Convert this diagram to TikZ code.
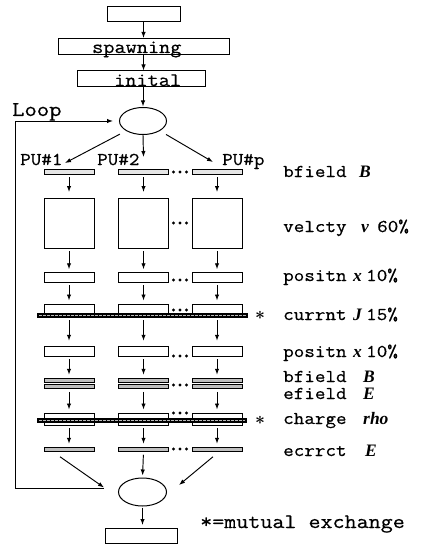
\documentclass[tikz,border=0pt]{standalone}
\usepackage{amsmath}
\usepackage{fontspec}
\usetikzlibrary{shapes.geometric,arrows.meta}
\newfontfamily\monoA[FakeStretch=1.14,FakeBold=0.6]{Latin Modern Mono}
\newfontfamily\varfont{Liberation Serif}
\begin{document}
\begin{tikzpicture}[x=1pt,y=-1pt]
\tikzset{
 frame/.style={draw,line width=1pt,fill=white,inner sep=0pt,outer sep=0pt},
 cell/.style={frame,minimum width=50pt},
 bar/.style={draw,line width=0.85pt,fill=gray!50,inner sep=0pt,outer sep=0pt,minimum width=50pt,minimum height=4.5pt},
 lightbar/.style={bar,fill=gray!20},
 oval/.style={ellipse,draw,line width=1pt,inner sep=0pt},
 arr/.style={-{Latex[length=6pt,width=4.4pt]},line width=0.95pt},
 varr/.style={arr,shorten <=3pt,shorten >=3.5pt},
 lbl/.style={inner sep=0pt,anchor=base west,font=\monoA\fontsize{18}{20}\selectfont},
 var/.style={inner sep=0pt,anchor=base west,font=\varfont\bfseries\itshape\fontsize{17.5}{18}\selectfont},
 xband/.style={line width=5pt,black},
 xbandin/.style={line width=1.3pt,gray!55,dash pattern=on 2.5pt off 1.5pt},
 dotty/.style={fill=black},
 starn/.style={inner sep=0pt,font=\fontsize{18}{18}\selectfont},
}
\useasboundingbox (0,0) rectangle (428,548);

% top part
\node[frame,minimum width=73pt,minimum height=15pt] (start) at (143.5,14.5) {};
\node[frame,minimum width=171pt,minimum height=16pt] (spawn) at (143.5,47) {};
\node[lbl,font=\monoA\fontsize{19}{20}\selectfont] (spawnt) at (92,53) {spawning};
\node[frame,minimum width=128pt,minimum height=16pt] (init) at (141,79) {};
\node[lbl,font=\monoA\fontsize{19}{20}\selectfont] (initt) at (114,86) {inital};
\node[oval,minimum width=47pt,minimum height=27pt] (e1) at (143,121) {};

\draw[arr,shorten >=1pt] (start.south) -- (spawn.north);
\draw[arr,shorten >=0.5pt] (spawn.south) -- (spawn.south |- init.north);
\draw[arr,shorten >=0.5pt] (e1 |- init.south) -- (e1.north);

% PU labels and fan-out
\node[lbl] (pu1) at (20,165) {PU\#1};
\node[lbl] (pu2) at (97,165) {PU\#2};
\node[lbl] (pu3) at (222,165) {PU\#p};
\coordinate (t1) at (65,163);
\coordinate (t2) at (143.5,157);
\coordinate (t3) at (213,162);
\draw[arr,shorten <=7pt] (e1.south west) -- (t1);
\draw[arr] (e1.south) -- (t2);
\draw[arr,shorten <=7pt] (e1.south east) -- (t3);

% columns
\foreach \i/\x in {1/69,2/143.5,3/217}{
  \node[lightbar] (ba\i) at (\x,172) {};
  \node[cell,minimum height=50pt] (sq\i) at (\x,223) {};
  \node[cell,minimum height=9.5pt] (pa\i) at (\x,277.5) {};
  \node[cell,minimum height=13pt] (cu\i) at (\x,310.5) {};
  \node[cell,minimum height=9.5pt] (pb\i) at (\x,351.5) {};
  \node[bar] (bb\i) at (\x,380.5) {};
  \node[bar] (ef\i) at (\x,386.5) {};
  \node[cell,minimum height=12pt] (ch\i) at (\x,419) {};
  \node[bar] (ec\i) at (\x,449.5) {};
  \draw[arr,shorten <=3pt,shorten >=6pt] (ba\i.south) -- (sq\i.north);
  \draw[varr] (sq\i.south) -- (pa\i.north);
  \draw[varr] (pa\i.south) -- (cu\i.north);
  \draw[varr,shorten >=6pt] (cu\i.south) -- (pb\i.north);
  \draw[varr] (pb\i.south) -- (bb\i.north);
  \draw[varr] (ef\i.south) -- (ch\i.north);
  \draw[varr] (ch\i.south) -- (ec\i.north);
}

% exchange bands
\draw[xband] (37,315.5) -- (248,315.5);
\draw[xbandin] (39,315.5) -- (246,315.5);
\draw[xband] (37,420.5) -- (247,420.5);
\draw[xbandin] (39,420.5) -- (245,420.5);
\node[starn] (st1) at (260,315) {$\boldsymbol{\ast}$};
\node[starn] (st2) at (260,420.5) {$\boldsymbol{\ast}$};

% dots between column 2 and column p
\foreach \y in {172,223,280,310,356,385,413,449}{
  \foreach \x in {173.5,180,186.5}{
    \fill[dotty] (\x,\y) circle (1.7pt);
  }
}

% bottom part
\node[oval,minimum width=48pt,minimum height=28pt] (e2) at (142.5,492) {};
\node[frame,minimum width=72pt,minimum height=15pt] (stop) at (141,535.5) {};
\coordinate (jn) at (104,487.5);
\coordinate (t5) at (179,485);
\coordinate (lc1) at (15,488.5);
\draw[arr] ([xshift=-9pt,yshift=-5pt]ec1.south) -- (jn);
\draw[arr,shorten <=3pt,shorten >=2pt] (ec2.south) -- (e2.north);
\draw[arr] ([xshift=-4pt,yshift=-5pt]ec3.south) -- (t5);
\draw[arr,shorten <=1pt,shorten >=3pt] (e2.south) -- (e2.south |- stop.north);
\draw[arr,shorten >=6pt] (jn |- lc1) -- (lc1) |- (e1.west);
\node[lbl,font=\monoA\fontsize{21}{22}\selectfont] (loop) at (12,116) {Loop};

% right-hand labels
\node[lbl] (l1) at (283,177) {bfield};   \node[var] (v1) at (359,177) {B};
\node[lbl] (l2) at (283,232) {velcty};   \node[var] (v2) at (361,232) {v};
\node[lbl] (p2) at (377,232) {60\%};
\node[lbl] (l3) at (283,281) {positn};   \node[var] (v3) at (353,281) {x};
\node[lbl] (p3) at (366,281) {10\%};
\node[lbl] (l4) at (283,320) {currnt};   \node[var] (v4) at (353,320) {J};
\node[lbl] (p4) at (366,320) {15\%};
\node[lbl] (l5) at (283,357) {positn};   \node[var] (v5) at (353,357) {x};
\node[lbl] (p5) at (366,357) {10\%};
\node[lbl] (l6) at (283,382) {bfield};   \node[var] (v6) at (363,382) {B};
\node[lbl] (l7) at (283,399) {efield};   \node[var] (v7) at (363,399) {E};
\node[lbl] (l8) at (283,424) {charge};   \node[var] (v8) at (363,424) {rho};
\node[lbl] (l9) at (283,456) {ecrrct};   \node[var] (v9) at (365,456) {E};
\node[lbl,font=\monoA\fontsize{20.5}{22}\selectfont] (legend) at (200,528) {*=mutual exchange};
\end{tikzpicture}
\end{document}
